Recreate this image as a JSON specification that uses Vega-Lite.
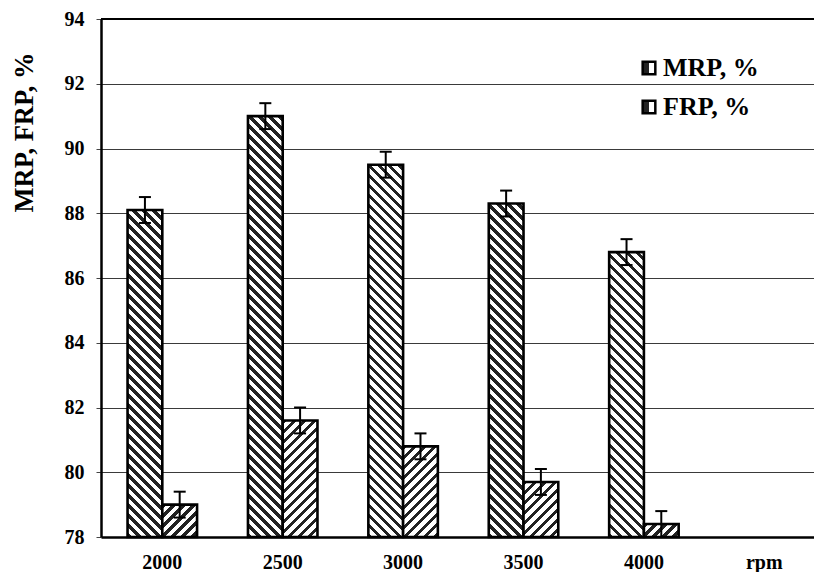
{
  "$schema": "https://vega.github.io/schema/vega-lite/v6.json",
  "width": 713,
  "height": 518,
  "autosize": {"type": "none"},
  "padding": {"left": 101, "top": 19, "right": 0, "bottom": 35},
  "background": "white",
  "config": {"view": {"stroke": null}, "font": "Liberation Serif"},
  "params": [
    {"name": "hs", "value": [
      {"offset":0,"color":"#222"},{"offset":0.009,"color":"#222"},{"offset":0.009,"color":"#fff"},{"offset":0.02,"color":"#fff"},
      {"offset":0.02,"color":"#222"},{"offset":0.029,"color":"#222"},{"offset":0.029,"color":"#fff"},{"offset":0.04,"color":"#fff"},
      {"offset":0.04,"color":"#222"},{"offset":0.049,"color":"#222"},{"offset":0.049,"color":"#fff"},{"offset":0.06,"color":"#fff"},
      {"offset":0.06,"color":"#222"},{"offset":0.069,"color":"#222"},{"offset":0.069,"color":"#fff"},{"offset":0.08,"color":"#fff"},
      {"offset":0.08,"color":"#222"},{"offset":0.089,"color":"#222"},{"offset":0.089,"color":"#fff"},{"offset":0.1,"color":"#fff"},
      {"offset":0.1,"color":"#222"},{"offset":0.109,"color":"#222"},{"offset":0.109,"color":"#fff"},{"offset":0.12,"color":"#fff"},
      {"offset":0.12,"color":"#222"},{"offset":0.129,"color":"#222"},{"offset":0.129,"color":"#fff"},{"offset":0.14,"color":"#fff"},
      {"offset":0.14,"color":"#222"},{"offset":0.149,"color":"#222"},{"offset":0.149,"color":"#fff"},{"offset":0.16,"color":"#fff"},
      {"offset":0.16,"color":"#222"},{"offset":0.169,"color":"#222"},{"offset":0.169,"color":"#fff"},{"offset":0.18,"color":"#fff"},
      {"offset":0.18,"color":"#222"},{"offset":0.189,"color":"#222"},{"offset":0.189,"color":"#fff"},{"offset":0.2,"color":"#fff"},
      {"offset":0.2,"color":"#222"},{"offset":0.209,"color":"#222"},{"offset":0.209,"color":"#fff"},{"offset":0.22,"color":"#fff"},
      {"offset":0.22,"color":"#222"},{"offset":0.229,"color":"#222"},{"offset":0.229,"color":"#fff"},{"offset":0.24,"color":"#fff"},
      {"offset":0.24,"color":"#222"},{"offset":0.249,"color":"#222"},{"offset":0.249,"color":"#fff"},{"offset":0.26,"color":"#fff"},
      {"offset":0.26,"color":"#222"},{"offset":0.269,"color":"#222"},{"offset":0.269,"color":"#fff"},{"offset":0.28,"color":"#fff"},
      {"offset":0.28,"color":"#222"},{"offset":0.289,"color":"#222"},{"offset":0.289,"color":"#fff"},{"offset":0.3,"color":"#fff"},
      {"offset":0.3,"color":"#222"},{"offset":0.309,"color":"#222"},{"offset":0.309,"color":"#fff"},{"offset":0.32,"color":"#fff"},
      {"offset":0.32,"color":"#222"},{"offset":0.329,"color":"#222"},{"offset":0.329,"color":"#fff"},{"offset":0.34,"color":"#fff"},
      {"offset":0.34,"color":"#222"},{"offset":0.349,"color":"#222"},{"offset":0.349,"color":"#fff"},{"offset":0.36,"color":"#fff"},
      {"offset":0.36,"color":"#222"},{"offset":0.369,"color":"#222"},{"offset":0.369,"color":"#fff"},{"offset":0.38,"color":"#fff"},
      {"offset":0.38,"color":"#222"},{"offset":0.389,"color":"#222"},{"offset":0.389,"color":"#fff"},{"offset":0.4,"color":"#fff"},
      {"offset":0.4,"color":"#222"},{"offset":0.409,"color":"#222"},{"offset":0.409,"color":"#fff"},{"offset":0.42,"color":"#fff"},
      {"offset":0.42,"color":"#222"},{"offset":0.429,"color":"#222"},{"offset":0.429,"color":"#fff"},{"offset":0.44,"color":"#fff"},
      {"offset":0.44,"color":"#222"},{"offset":0.449,"color":"#222"},{"offset":0.449,"color":"#fff"},{"offset":0.46,"color":"#fff"},
      {"offset":0.46,"color":"#222"},{"offset":0.469,"color":"#222"},{"offset":0.469,"color":"#fff"},{"offset":0.48,"color":"#fff"},
      {"offset":0.48,"color":"#222"},{"offset":0.489,"color":"#222"},{"offset":0.489,"color":"#fff"},{"offset":0.5,"color":"#fff"},
      {"offset":0.5,"color":"#222"},{"offset":0.509,"color":"#222"},{"offset":0.509,"color":"#fff"},{"offset":0.52,"color":"#fff"},
      {"offset":0.52,"color":"#222"},{"offset":0.529,"color":"#222"},{"offset":0.529,"color":"#fff"},{"offset":0.54,"color":"#fff"},
      {"offset":0.54,"color":"#222"},{"offset":0.549,"color":"#222"},{"offset":0.549,"color":"#fff"},{"offset":0.56,"color":"#fff"},
      {"offset":0.56,"color":"#222"},{"offset":0.569,"color":"#222"},{"offset":0.569,"color":"#fff"},{"offset":0.58,"color":"#fff"},
      {"offset":0.58,"color":"#222"},{"offset":0.589,"color":"#222"},{"offset":0.589,"color":"#fff"},{"offset":0.6,"color":"#fff"},
      {"offset":0.6,"color":"#222"},{"offset":0.609,"color":"#222"},{"offset":0.609,"color":"#fff"},{"offset":0.62,"color":"#fff"},
      {"offset":0.62,"color":"#222"},{"offset":0.629,"color":"#222"},{"offset":0.629,"color":"#fff"},{"offset":0.64,"color":"#fff"},
      {"offset":0.64,"color":"#222"},{"offset":0.649,"color":"#222"},{"offset":0.649,"color":"#fff"},{"offset":0.66,"color":"#fff"},
      {"offset":0.66,"color":"#222"},{"offset":0.669,"color":"#222"},{"offset":0.669,"color":"#fff"},{"offset":0.68,"color":"#fff"},
      {"offset":0.68,"color":"#222"},{"offset":0.689,"color":"#222"},{"offset":0.689,"color":"#fff"},{"offset":0.7,"color":"#fff"},
      {"offset":0.7,"color":"#222"},{"offset":0.709,"color":"#222"},{"offset":0.709,"color":"#fff"},{"offset":0.72,"color":"#fff"},
      {"offset":0.72,"color":"#222"},{"offset":0.729,"color":"#222"},{"offset":0.729,"color":"#fff"},{"offset":0.74,"color":"#fff"},
      {"offset":0.74,"color":"#222"},{"offset":0.749,"color":"#222"},{"offset":0.749,"color":"#fff"},{"offset":0.76,"color":"#fff"},
      {"offset":0.76,"color":"#222"},{"offset":0.769,"color":"#222"},{"offset":0.769,"color":"#fff"},{"offset":0.78,"color":"#fff"},
      {"offset":0.78,"color":"#222"},{"offset":0.789,"color":"#222"},{"offset":0.789,"color":"#fff"},{"offset":0.8,"color":"#fff"},
      {"offset":0.8,"color":"#222"},{"offset":0.809,"color":"#222"},{"offset":0.809,"color":"#fff"},{"offset":0.82,"color":"#fff"},
      {"offset":0.82,"color":"#222"},{"offset":0.829,"color":"#222"},{"offset":0.829,"color":"#fff"},{"offset":0.84,"color":"#fff"},
      {"offset":0.84,"color":"#222"},{"offset":0.849,"color":"#222"},{"offset":0.849,"color":"#fff"},{"offset":0.86,"color":"#fff"},
      {"offset":0.86,"color":"#222"},{"offset":0.869,"color":"#222"},{"offset":0.869,"color":"#fff"},{"offset":0.88,"color":"#fff"},
      {"offset":0.88,"color":"#222"},{"offset":0.889,"color":"#222"},{"offset":0.889,"color":"#fff"},{"offset":0.9,"color":"#fff"},
      {"offset":0.9,"color":"#222"},{"offset":0.909,"color":"#222"},{"offset":0.909,"color":"#fff"},{"offset":0.92,"color":"#fff"},
      {"offset":0.92,"color":"#222"},{"offset":0.929,"color":"#222"},{"offset":0.929,"color":"#fff"},{"offset":0.94,"color":"#fff"},
      {"offset":0.94,"color":"#222"},{"offset":0.949,"color":"#222"},{"offset":0.949,"color":"#fff"},{"offset":0.96,"color":"#fff"},
      {"offset":0.96,"color":"#222"},{"offset":0.969,"color":"#222"},{"offset":0.969,"color":"#fff"},{"offset":0.98,"color":"#fff"},
      {"offset":0.98,"color":"#222"},{"offset":0.989,"color":"#222"},{"offset":0.989,"color":"#fff"},{"offset":1,"color":"#fff"}
    ]}
  ],
  "data": {"values": [
    {"rpm": "2000", "series": "MRP, %", "v": 88.1, "lo": 87.7, "hi": 88.5},
    {"rpm": "2000", "series": "FRP, %", "v": 79.0, "lo": 78.6, "hi": 79.4},
    {"rpm": "2500", "series": "MRP, %", "v": 91.0, "lo": 90.6, "hi": 91.4},
    {"rpm": "2500", "series": "FRP, %", "v": 81.6, "lo": 81.2, "hi": 82.0},
    {"rpm": "3000", "series": "MRP, %", "v": 89.5, "lo": 89.1, "hi": 89.9},
    {"rpm": "3000", "series": "FRP, %", "v": 80.8, "lo": 80.4, "hi": 81.2},
    {"rpm": "3500", "series": "MRP, %", "v": 88.3, "lo": 87.9, "hi": 88.7},
    {"rpm": "3500", "series": "FRP, %", "v": 79.7, "lo": 79.3, "hi": 80.1},
    {"rpm": "4000", "series": "MRP, %", "v": 86.8, "lo": 86.4, "hi": 87.2},
    {"rpm": "4000", "series": "FRP, %", "v": 78.4, "lo": 78.0, "hi": 78.8}
  ]},
  "layer": [
    {
      "mark": {
        "type": "bar",
        "strokeWidth": 2.6,
        "fill": {"expr": "{gradient: 'linear', x1: 0, y1: datum.series == 'MRP, %' ? 1 : 0, x2: 500 * (bandwidth('x') / 2) / (pow(bandwidth('x') / 2, 2) + pow(scale('y', 78) - scale('y', datum.v), 2)), y2: datum.series == 'MRP, %' ? 1 - 500 * (scale('y', 78) - scale('y', datum.v)) / (pow(bandwidth('x') / 2, 2) + pow(scale('y', 78) - scale('y', datum.v), 2)) : 500 * (scale('y', 78) - scale('y', datum.v)) / (pow(bandwidth('x') / 2, 2) + pow(scale('y', 78) - scale('y', datum.v), 2)), stops: hs}"}
      },
      "encoding": {
        "x": {
          "field": "rpm", "type": "nominal",
          "scale": {"domain": ["2000", "2500", "3000", "3500", "4000", "rpm"], "paddingInner": 0.4227, "paddingOuter": 0.1723, "align": 0.64},
          "axis": {"title": null, "labelAngle": 0, "labelFont": "Liberation Serif", "labelFontWeight": "bold", "labelFontSize": 20, "labelColor": "#000", "labelPadding": 15, "ticks": false, "tickSize": 0, "domainColor": "#000", "domainWidth": 2.5, "grid": false}
        },
        "xOffset": {"field": "series", "type": "nominal", "scale": {"domain": ["MRP, %", "FRP, %"]}},
        "y": {
          "field": "v", "type": "quantitative", "title": "MRP, FRP, %",
          "scale": {"domain": [78, 94], "nice": false, "zero": false},
          "axis": {"values": [78, 80, 82, 84, 86, 88, 90, 92, 94], "labelFont": "Liberation Serif", "labelFontSize": 20, "labelFontWeight": "bold", "labelColor": "#000", "labelPadding": 12, "tickSize": 5, "tickColor": "#444", "tickWidth": 1, "domainColor": "#000", "domainWidth": 2.5, "grid": true, "gridColor": "#3a3a3a", "gridWidth": 1, "titleFont": "Liberation Serif", "titleFontSize": 26.5, "titleFontWeight": "bold", "titleColor": "#000", "titleX": -69, "titleY": 113, "titleBaseline": "alphabetic", "titleAlign": "center", "titleAngle": -90}
        },
        "y2": {"datum": 78},
        "stroke": {
          "field": "series", "type": "nominal",
          "scale": {"domain": ["MRP, %", "FRP, %"], "range": ["#000", "#000"]},
          "legend": {
            "title": null, "orient": "none", "legendX": 535, "legendY": 36, "padding": 0,
            "symbolType": "square", "symbolSize": 160, "symbolStrokeWidth": 2.5, "symbolStrokeColor": "#000",
            "labelFont": "Liberation Serif", "labelFontSize": 26, "labelFontWeight": "bold", "labelColor": "#000", "labelOffset": 1, "labelLimit": 0, "rowPadding": 13,
            "encode": {"symbols": {"update": {
              "fill": {"signal": "datum.value == 'MRP, %' ? {gradient: 'linear', x1: 0, y1: 1, x2: 1, y2: 0, stops: [{offset: 0, color: '#222'}, {offset: 0.45, color: '#222'}, {offset: 0.45, color: '#fff'}, {offset: 1, color: '#fff'}]} : {gradient: 'linear', x1: 1, y1: 1, x2: 0, y2: 0, stops: [{offset: 0, color: '#222'}, {offset: 0.45, color: '#222'}, {offset: 0.45, color: '#fff'}, {offset: 1, color: '#fff'}]}"},
              "stroke": {"value": "#000"},
              "strokeWidth": {"value": 2.5},
              "opacity": {"value": 1}
            }}}
          }
        }
      }
    },
    {
      "mark": {"type": "rule", "color": "#000", "strokeWidth": 2},
      "encoding": {
        "x": {"field": "rpm", "type": "nominal"},
        "xOffset": {"field": "series", "type": "nominal"},
        "y": {"field": "lo", "type": "quantitative", "title": "MRP, FRP, %"},
        "y2": {"field": "hi"}
      }
    },
    {
      "mark": {"type": "tick", "color": "#000", "opacity": 1, "size": 12, "thickness": 2},
      "encoding": {
        "x": {"field": "rpm", "type": "nominal"},
        "xOffset": {"field": "series", "type": "nominal"},
        "y": {"field": "lo", "type": "quantitative", "title": "MRP, FRP, %"}
      }
    },
    {
      "mark": {"type": "tick", "color": "#000", "opacity": 1, "size": 12, "thickness": 2},
      "encoding": {
        "x": {"field": "rpm", "type": "nominal"},
        "xOffset": {"field": "series", "type": "nominal"},
        "y": {"field": "hi", "type": "quantitative", "title": "MRP, FRP, %"}
      }
    },
    {
      "mark": {"type": "rule", "color": "#000", "strokeWidth": 2},
      "encoding": {"y": {"datum": 94}}
    }
  ]
}
